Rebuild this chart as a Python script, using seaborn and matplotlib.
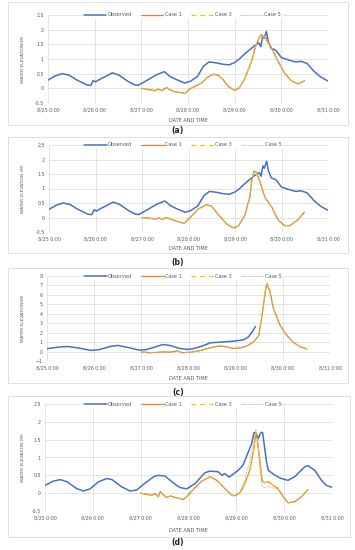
import seaborn as sns
import matplotlib.pyplot as plt
from matplotlib.patches import Rectangle

# time in days from 8/25 0:00
x_labels = ['8/25 0:00', '8/26 0:00', '8/27 0:00', '8/28 0:00', '8/29 0:00', '8/30 0:00', '8/31 0:00']

# panels (a) and (b) share the observed record
obs_ab_t = [0, 0.15, 0.3, 0.45, 0.6, 0.84, 0.92, 0.97, 1.02, 1.1, 1.25, 1.38, 1.52, 1.7, 1.85, 1.93,
            2.02, 2.15, 2.31, 2.49, 2.62, 2.75, 2.93, 3.05, 3.2, 3.33, 3.45, 3.6, 3.75, 3.88, 4.0, 4.1,
            4.22, 4.33, 4.45, 4.52, 4.56, 4.6, 4.63, 4.68, 4.72, 4.78, 4.88, 5.0, 5.15, 5.3, 5.42, 5.55,
            5.7, 5.85, 6.0]
obs_ab = [0.28, 0.42, 0.5, 0.45, 0.3, 0.11, 0.1, 0.27, 0.22, 0.3, 0.42, 0.53, 0.45, 0.25, 0.12, 0.1,
          0.18, 0.3, 0.45, 0.57, 0.4, 0.3, 0.18, 0.24, 0.4, 0.75, 0.9, 0.87, 0.82, 0.8, 0.88, 1.0,
          1.18, 1.33, 1.48, 1.55, 1.42, 1.78, 1.7, 1.94, 1.6, 1.37, 1.3, 1.05, 0.97, 0.9, 0.92, 0.85,
          0.58, 0.38, 0.25]

case_a_t = [2.0, 2.15, 2.29, 2.36, 2.44, 2.54, 2.61, 2.72, 2.83, 2.93, 3.04, 3.15, 3.29, 3.42, 3.55,
            3.65, 3.75, 3.86, 4.0, 4.1, 4.21, 4.36, 4.46, 4.54, 4.57, 4.62, 4.66, 4.7, 4.79, 4.93,
            5.07, 5.21, 5.36, 5.5]
case_a = [0.0, -0.04, -0.08, -0.03, -0.08, 0.03, -0.05, -0.12, -0.14, -0.18, -0.02, 0.07, 0.18, 0.38,
          0.48, 0.44, 0.3, 0.07, -0.07, 0.02, 0.3, 0.92, 1.49, 1.77, 1.83, 1.72, 1.78, 1.6, 1.37, 0.92,
          0.52, 0.26, 0.15, 0.26]

case_b_t = [2.0, 2.15, 2.29, 2.36, 2.44, 2.52, 2.62, 2.75, 2.85, 2.91, 3.02, 3.1, 3.21, 3.39, 3.5,
            3.64, 3.82, 3.96, 4.07, 4.21, 4.32, 4.36, 4.41, 4.46, 4.54, 4.64, 4.79, 4.93, 5.07, 5.18,
            5.36, 5.49]
case_b = [0.0, -0.02, -0.06, -0.01, -0.07, 0.0, -0.06, -0.13, -0.18, -0.2, -0.02, 0.1, 0.3, 0.44, 0.39,
          0.1, -0.22, -0.36, -0.3, 0.07, 0.7, 1.28, 1.6, 1.56, 1.22, 0.7, 0.36, -0.1, -0.28, -0.28,
          -0.07, 0.18]

obs_c_t = [0, 0.3, 0.45, 0.7, 0.93, 1.1, 1.35, 1.5, 1.75, 1.95, 2.1, 2.3, 2.45, 2.6, 2.8, 2.97, 3.1,
           3.3, 3.46, 3.68, 3.96, 4.1, 4.17, 4.27, 4.35, 4.42]
obs_c = [0.3, 0.5, 0.53, 0.35, 0.12, 0.2, 0.55, 0.65, 0.4, 0.15, 0.2, 0.5, 0.74, 0.65, 0.35, 0.22, 0.3,
         0.6, 0.92, 1.0, 1.1, 1.2, 1.25, 1.55, 2.08, 2.65]

case_c_t = [2.0, 2.2, 2.35, 2.48, 2.6, 2.76, 2.87, 3.04, 3.25, 3.46, 3.6, 3.68, 3.8, 3.96, 4.1, 4.24,
            4.38, 4.49, 4.56, 4.63, 4.66, 4.72, 4.8, 4.94, 5.08, 5.23, 5.37, 5.51]
case_c = [-0.05, -0.12, -0.08, -0.03, -0.08, 0.07, -0.12, -0.07, 0.1, 0.4, 0.55, 0.6, 0.5, 0.32, 0.39,
          0.6, 1.02, 1.73, 3.85, 6.4, 7.2, 6.5, 4.55, 2.8, 1.73, 0.95, 0.5, 0.28]

obs_d_t = [0, 0.18, 0.32, 0.46, 0.66, 0.8, 0.94, 1.12, 1.29, 1.4, 1.6, 1.78, 1.92, 2.06, 2.27, 2.37,
           2.51, 2.68, 2.82, 2.96, 3.14, 3.34, 3.45, 3.62, 3.7, 3.76, 3.85, 3.9, 4.04, 4.14, 4.21,
           4.32, 4.37, 4.42, 4.46, 4.51, 4.55, 4.58, 4.63, 4.67, 4.81, 4.94, 5.08, 5.22, 5.43, 5.5,
           5.64, 5.78, 5.88, 6.0]
obs_d = [0.22, 0.34, 0.38, 0.32, 0.13, 0.06, 0.12, 0.32, 0.41, 0.38, 0.18, 0.06, 0.09, 0.25, 0.46, 0.5,
         0.48, 0.29, 0.16, 0.12, 0.27, 0.57, 0.62, 0.6, 0.5, 0.55, 0.45, 0.5, 0.64, 0.79, 1.02,
         1.39, 1.7, 1.67, 1.53, 1.7, 1.7, 1.39, 0.88, 0.64, 0.5, 0.41, 0.36, 0.46, 0.74, 0.77,
         0.64, 0.36, 0.22, 0.16]

case_d_t = [2.0, 2.12, 2.23, 2.3, 2.37, 2.41, 2.47, 2.54, 2.62, 2.72, 2.82, 2.89, 2.96, 3.14, 3.28,
            3.45, 3.59, 3.76, 3.9, 3.97, 4.08, 4.18, 4.28, 4.35, 4.41, 4.44, 4.49, 4.54, 4.6, 4.67,
            4.77, 4.87, 4.98, 5.08, 5.22, 5.36, 5.5]
case_d = [0.0, -0.03, -0.06, -0.01, -0.1, 0.04, -0.04, -0.12, -0.08, -0.12, -0.15, -0.18, -0.1, 0.16,
          0.34, 0.46, 0.36, 0.13, -0.06, -0.07, 0.01, 0.27, 0.64, 1.11, 1.69, 1.49, 0.93, 0.34, 0.29,
          0.32, 0.22, 0.13, -0.1, -0.27, -0.24, -0.1, 0.1]
case5_d = [0.0, -0.03, -0.06, -0.01, -0.1, 0.04, -0.04, -0.12, -0.08, -0.12, -0.15, -0.18, -0.1, 0.16,
           0.34, 0.46, 0.36, 0.13, -0.06, -0.07, 0.05, 0.4, 0.9, 1.4, 1.78, 1.5, 0.7, 0.2, 0.15,
           0.2, 0.15, 0.1, -0.1, -0.27, -0.26, -0.1, 0.1]

panels = [
    ('(a)', obs_ab_t, obs_ab, case_a_t, case_a, case_a, 'WATER ELEVATION(M)'),
    ('(b)', obs_ab_t, obs_ab, case_b_t, case_b, case_b, 'WATER ELEVATION (M)'),
    ('(c)', obs_c_t, obs_c, case_c_t, case_c, case_c, 'WATER ELEVATION(M)'),
    ('(d)', obs_d_t, obs_d, case_d_t, case_d, case5_d, 'WATER ELEVATION (M)'),
]

sns.set_style("white")
fig = plt.figure(figsize=(3.55, 5.5), dpi=100)
W, H = 355.0, 550.0

# plot area (left, top, right, bottom) and outer box in pixels
areas = [(48, 15, 328, 103), (49, 145, 328, 232), (47, 276, 330, 361), (45, 404, 332, 511)]
boxes = [(8, 2, 348, 125), (8, 137, 348, 253), (8, 268, 348, 383), (8, 396, 350, 537)]
xlab_y = [120, 249, 378, 531]
cap_y = [131, 262, 393, 543]

txt = '#595959'
for i, (cap, ot, ov, ct, cv, c5, ylab) in enumerate(panels):
    l, t, r, b = areas[i]
    bl, bt, br, bb = boxes[i]
    fig.patches.append(Rectangle((bl / W, 1 - bb / H), (br - bl) / W, (bb - bt) / H,
                                 transform=fig.transFigure, fill=False, edgecolor='#D9D9D9', lw=0.6))
    ax = fig.add_axes([l / W, 1 - b / H, (r - l) / W, (b - t) / H])
    sns.lineplot(x=ot, y=ov, ax=ax, color='#4472C4', lw=1.1, label='Observed')
    sns.lineplot(x=ct, y=cv, ax=ax, color='#ED7D31', lw=0.9, label='Case 1')
    sns.lineplot(x=ct, y=cv, ax=ax, color='#FFC000', lw=0.9, linestyle=(0, (4, 3)), label='Case 3')
    sns.lineplot(x=ct, y=c5, ax=ax, color='#A5A5A5', lw=0.6, linestyle=(0, (1, 1)), label='Case 5')

    ax.set_xlim(0, 6)
    ax.set_xticks(range(7))
    ax.set_xticklabels(x_labels)
    if cap == '(c)':
        ax.set_ylim(-1, 8)
        ax.set_yticks(range(-1, 9))
    else:
        ax.set_ylim(-0.5, 2.5)
        ax.set_yticks([-0.5, 0, 0.5, 1, 1.5, 2, 2.5])
        ax.set_yticklabels(['-0.5', '0', '0.5', '1', '1.5', '2', '2.5'])
    ax.grid(True, color='#D9D9D9', lw=0.5)
    ax.set_axisbelow(True)
    for s in ax.spines.values():
        s.set_visible(False)
    ax.tick_params(length=0, labelsize=3.4, colors=txt, pad=3)
    ax.set_xlabel('')
    ax.set_ylabel('')
    ax.legend(loc='center', bbox_to_anchor=(0.48, 1.0), ncol=4, fontsize=3.6, frameon=True,
              facecolor='white', edgecolor='none', framealpha=1, handlelength=4.5,
              columnspacing=1.8, handletextpad=0.3, borderpad=0.2, labelcolor=txt)
    fig.text(23 / W, 1 - (t + b) / 2 / H, ylab, rotation=90, ha='center', va='center',
             fontsize=3.2, color=txt)
    fig.text((l + r) / 2 / W, 1 - xlab_y[i] / H, 'DATE AND TIME', ha='center', va='center',
             fontsize=3.6, color=txt)
    fig.text(178 / W, 1 - cap_y[i] / H, cap, ha='center', va='center', fontsize=5.5,
             fontweight='bold', color='#222222')

fig.savefig('out.png', dpi=100)
